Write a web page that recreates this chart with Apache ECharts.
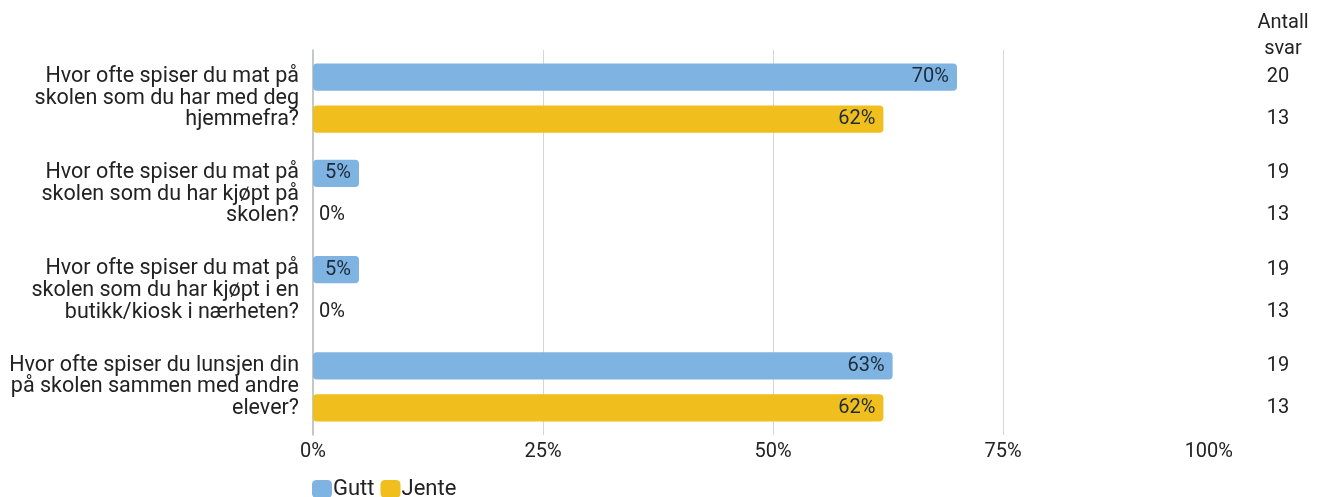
<!DOCTYPE html>
<html>
<head>
<meta charset="utf-8">
<script src="https://cdn.jsdelivr.net/npm/echarts@6/dist/echarts.min.js"></script>
<style>
html,body{margin:0;padding:0;background:#fff;}
#chart{width:1321px;height:497px;}
</style>
</head>
<body>
<div id="chart"></div>
<script>
const categories = [
  'Hvor ofte spiser du mat på\nskolen som du har med deg\nhjemmefra?',
  'Hvor ofte spiser du mat på\nskolen som du har kjøpt på\nskolen?',
  'Hvor ofte spiser du mat på\nskolen som du har kjøpt i en\nbutikk/kiosk i nærheten?',
  'Hvor ofte spiser du lunsjen din\npå skolen sammen med andre\nelever?'
];
const gutt = [70, 5, 5, 63];
const jente = [62, 0, 0, 62];
const guttCount = [20, 19, 19, 19];
const jenteCount = [13, 13, 13, 13];
const xTicks = [0, 25, 50, 75, 100];
const countTitle = 'Antall\nsvar';

const FONT = 'Roboto, "Liberation Sans", sans-serif';
const BLUE = '#7EB3E2';
const YELLOW = '#F0BF1D';

function barData(vals) {
  return vals.map(v => v === 0
    ? { value: v, label: { position: 'right', distance: 6, color: '#222' } }
    : { value: v });
}

const barCommon = {
  type: 'bar',
  barCategoryGap: '28%',
  barGap: '55%',
  label: {
    show: true,
    position: 'insideRight',
    distance: 8,
    formatter: p => p.value + '%',
    color: '#1d2b3a',
    fontFamily: FONT,
    fontSize: 20
  }
};

const countCommon = {
  type: 'bar',
  xAxisIndex: 1,
  yAxisIndex: 1,
  barCategoryGap: '28%',
  barGap: '55%',
  silent: true,
  itemStyle: { color: 'rgba(0,0,0,0)' },
  label: {
    show: true,
    position: 'inside',
    color: '#222',
    fontFamily: FONT,
    fontSize: 20
  }
};

const chart = echarts.init(document.getElementById('chart'));
chart.setOption({
  animation: false,
  textStyle: { fontFamily: FONT },
  title: {
    text: countTitle,
    left: 1278,
    top: 5,
    textAlign: 'center',
    textStyle: { fontFamily: FONT, fontSize: 20, fontWeight: 'normal', color: '#222', lineHeight: 26 }
  },
  legend: {
    data: ['Gutt', 'Jente'],
    left: 307,
    top: 473,
    itemWidth: 20,
    itemHeight: 18,
    itemGap: 6,
    icon: 'roundRect',
    textStyle: { fontFamily: FONT, fontSize: 22, color: '#222', padding: [0, 0, 0, -4] }
  },
  grid: [
    { left: 313, right: 88, top: 50, bottom: 62 },
    { left: 1250, width: 56, top: 50, bottom: 62 }
  ],
  xAxis: [
    {
      type: 'value',
      min: xTicks[0],
      max: xTicks[xTicks.length - 1],
      interval: 25,
      axisLine: { show: false },
      axisTick: { show: false },
      axisLabel: {
        formatter: v => v + '%',
        fontFamily: FONT,
        fontSize: 20,
        color: '#222',
        margin: 7,
        alignMaxLabel: 'right'
      },
      splitLine: { show: true, showMinLine: false, showMaxLine: false, lineStyle: { color: '#d6d6d6', width: 1 } }
    },
    { type: 'value', gridIndex: 1, min: 0, max: 1, show: false }
  ],
  yAxis: [
    {
      type: 'category',
      data: categories,
      inverse: true,
      axisLine: { show: true, lineStyle: { color: '#b5b5b5', width: 1.5 } },
      axisTick: { show: false },
      axisLabel: {
        fontFamily: FONT,
        fontSize: 21.5,
        color: '#222',
        lineHeight: 21.7,
        margin: 14,
        align: 'right'
      }
    },
    { type: 'category', gridIndex: 1, data: categories, inverse: true, show: false }
  ],
  series: [
    Object.assign({}, barCommon, {
      name: 'Gutt',
      data: barData(gutt),
      itemStyle: { color: BLUE, borderRadius: 4 }
    }),
    Object.assign({}, barCommon, {
      name: 'Jente',
      data: barData(jente),
      itemStyle: { color: YELLOW, borderRadius: 4 }
    }),
    Object.assign({}, countCommon, {
      name: 'Gutt antall',
      data: guttCount.map(() => 1),
      label: Object.assign({}, countCommon.label, { formatter: p => String(guttCount[p.dataIndex]) })
    }),
    Object.assign({}, countCommon, {
      name: 'Jente antall',
      data: jenteCount.map(() => 1),
      label: Object.assign({}, countCommon.label, { formatter: p => String(jenteCount[p.dataIndex]) })
    })
  ]
});
</script>
</body>
</html>
